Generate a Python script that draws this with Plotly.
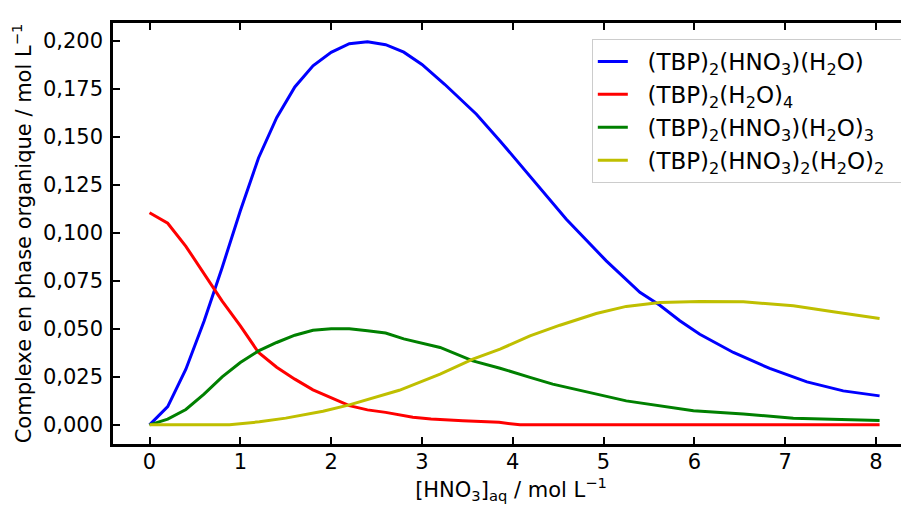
import plotly.graph_objects as go

# Blue: (TBP)2(HNO3)(H2O)
blue_x = [0, 0.2, 0.4, 0.6, 0.8, 1.0, 1.2, 1.4, 1.6, 1.8, 2.0, 2.2, 2.4, 2.6, 2.8, 3.0,
          3.25, 3.6, 3.86, 4.22, 4.59, 5.03, 5.4, 5.62, 5.84, 6.06, 6.43, 6.83, 7.24, 7.64, 8.04]
blue_y = [0, 0.0095, 0.029, 0.054, 0.082, 0.1115, 0.139, 0.160, 0.176, 0.187, 0.194, 0.1985,
          0.1995, 0.198, 0.1941, 0.1877, 0.1774, 0.1618, 0.1479, 0.128, 0.1071, 0.0854, 0.069,
          0.0623, 0.0542, 0.0472, 0.0377, 0.0294, 0.0224, 0.0177, 0.0151]

# Red: (TBP)2(H2O)4
red_x = [0, 0.2, 0.4, 0.6, 0.8, 1.0, 1.2, 1.4, 1.6, 1.8, 2.0, 2.2, 2.4, 2.6, 2.9, 3.1,
         3.45, 3.85, 4.08, 8.04]
red_y = [0.1105, 0.105, 0.093, 0.079, 0.0645, 0.0516, 0.0377, 0.030, 0.0238, 0.0182, 0.0143,
         0.010, 0.0078, 0.0065, 0.004, 0.003, 0.0021, 0.0013, 0.0, 0.0]

# Green: (TBP)2(HNO3)(H2O)3
green_x = [0, 0.2, 0.4, 0.6, 0.8, 1.0, 1.2, 1.4, 1.6, 1.8, 2.0, 2.2, 2.4, 2.6, 2.8, 3.2,
           3.56, 3.86, 4.19, 4.44, 5.25, 5.99, 6.54, 7.09, 8.04]
green_y = [0, 0.003, 0.008, 0.016, 0.025, 0.0325, 0.0385, 0.0429, 0.0467, 0.0493, 0.0501,
           0.0501, 0.049, 0.0478, 0.0448, 0.0403, 0.0333, 0.0295, 0.0247, 0.0212, 0.0125,
           0.0073, 0.0056, 0.0035, 0.0023]

# Yellow: (TBP)2(HNO3)2(H2O)2
yellow_x = [0, 0.88, 1.21, 1.5, 1.91, 2.2, 2.75, 3.2, 3.56, 3.86, 4.19, 4.52, 4.92, 5.25,
            5.62, 6.06, 6.54, 7.09, 7.53, 8.04]
yellow_y = [0, 0, 0.0016, 0.0035, 0.0071, 0.0104, 0.018, 0.0264, 0.0342, 0.0394, 0.0464,
            0.0519, 0.058, 0.0617, 0.0637, 0.0643, 0.0641, 0.062, 0.0589, 0.0554]

names = [
    "(TBP)<sub>2</sub>(HNO<sub>3</sub>)(H<sub>2</sub>O)",
    "(TBP)<sub>2</sub>(H<sub>2</sub>O)<sub>4</sub>",
    "(TBP)<sub>2</sub>(HNO<sub>3</sub>)(H<sub>2</sub>O)<sub>3</sub>",
    "(TBP)<sub>2</sub>(HNO<sub>3</sub>)<sub>2</sub>(H<sub>2</sub>O)<sub>2</sub>",
]
colors = ["#0000ff", "#ff0000", "#008000", "#bfbf00"]
series = [(blue_x, blue_y), (red_x, red_y), (green_x, green_y), (yellow_x, yellow_y)]

x_ticks = [0, 1, 2, 3, 4, 5, 6, 7, 8]
y_ticks = [0, 0.025, 0.05, 0.075, 0.1, 0.125, 0.15, 0.175, 0.2]

FONT = "DejaVu Sans"
FS = 21
PAD = "\u00a0\u00a0"
fig = go.Figure()
for i, ((xs, ys), name, c) in enumerate(zip(series, names, colors)):
    fig.add_trace(go.Scatter(x=xs, y=ys, mode="lines", name=PAD + name + PAD,
                             legendgroup=f"g{i}", line=dict(color=c, width=3)))

fig.update_layout(
    width=901, height=499,
    margin=dict(l=105, r=0, t=15, b=63),
    paper_bgcolor="white", plot_bgcolor="white",
    separators=", ",
    font=dict(family=FONT, size=FS, color="black"),
    showlegend=True,
    legend=dict(x=0.996, y=0.962, xanchor="right", yanchor="top",
                bgcolor="white", bordercolor="#cccccc", borderwidth=1,
                tracegroupgap=0,
                font=dict(family=FONT, size=23)),
    xaxis=dict(range=[-0.4025, 8.364], tickvals=x_ticks, ticktext=[str(v) for v in x_ticks],
               ticks="inside", ticklen=7, tickwidth=2, tickcolor="black",
               showline=True, linewidth=2.5, linecolor="black", mirror="ticks",
               showgrid=False, zeroline=False, ticklabelstandoff=-3,
               tickfont=dict(family=FONT, size=FS),
               title=dict(text="[HNO<sub>3</sub>]<sub>aq</sub> / mol L<sup>−1</sup>",
                          font=dict(family=FONT, size=FS), standoff=9),
               automargin=False),
    yaxis=dict(range=[-0.00997, 0.2093], tickvals=y_ticks, tickformat=".3f",
               ticks="inside", ticklen=7, tickwidth=2, tickcolor="black",
               showline=True, linewidth=2.5, linecolor="black", mirror=False,
               showgrid=False, zeroline=False, ticklabelstandoff=3,
               tickfont=dict(family=FONT, size=FS),
               title=dict(text="Complexe en phase organique / mol L<sup>−1</sup>",
                          font=dict(family=FONT, size=FS), standoff=8),
               automargin=False),
)
fig.write_html("out.html")
